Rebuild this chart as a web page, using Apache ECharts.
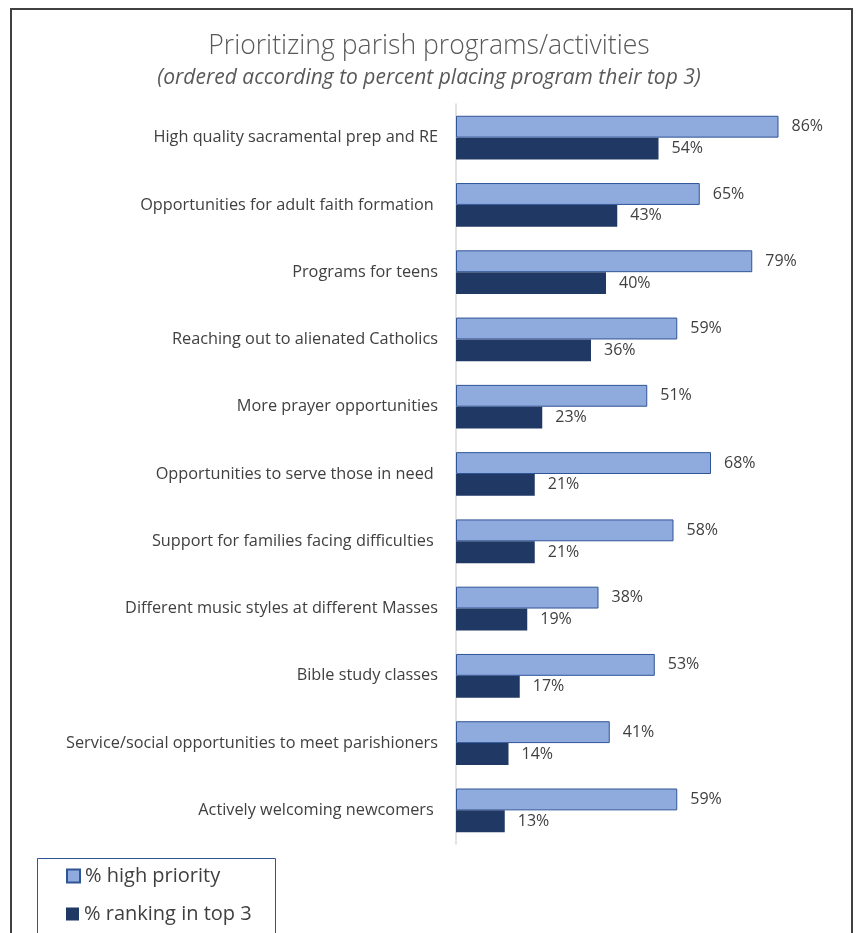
<!DOCTYPE html>
<html><head><meta charset="utf-8">
<script src="https://cdn.jsdelivr.net/npm/echarts@6/dist/echarts.min.js"></script>
<style>html,body{margin:0;padding:0;background:#fff}#c{width:858px;height:933px}</style>
</head><body><div id="c"></div>
<script>
const categories = [
  "High quality sacramental prep and RE",
  "Opportunities for adult faith formation ",
  "Programs for teens",
  "Reaching out to alienated Catholics",
  "More prayer opportunities",
  "Opportunities to serve those in need ",
  "Support for families facing difficulties ",
  "Different music styles at different Masses",
  "Bible study classes",
  "Service/social opportunities to meet parishioners",
  "Actively welcoming newcomers "
];
const highPriority = [86, 65, 79, 59, 51, 68, 58, 38, 53, 41, 59];
const top3 = [54, 43, 40, 36, 23, 21, 21, 19, 17, 14, 13];
const seriesNames = ["% high priority", "% ranking in top 3"];

const FONT = "Open Sans";
const legendBase = {
  orient: 'vertical', left: 66, padding: 0,
  itemWidth: 13, itemHeight: 13, icon: 'rect',
  textStyle: { fontFamily: FONT, fontSize: 20, color: '#404040' }
};
const chart = echarts.init(document.getElementById('c'));
chart.setOption({
  animation: false,
  backgroundColor: '#fff',
  textStyle: { fontFamily: FONT },
  title: [{
    text: 'Prioritizing parish programs/activities',
    left: 'center', top: 28,
    textStyle: { fontFamily: FONT, fontSize: 26.6, fontWeight: 300, color: '#595959' }
  }, {
    text: '(ordered according to percent placing program their top 3)',
    left: 'center', top: 63,
    textStyle: { fontFamily: FONT, fontSize: 21, fontWeight: 'normal', fontStyle: 'italic', color: '#595959' }
  }],
  graphic: [{
    type: 'rect', shape: { x: 11, y: 9, width: 841, height: 940 },
    style: { fill: 'none', stroke: '#404040', lineWidth: 2 }, silent: true, z: 100
  }, {
    type: 'rect', shape: { x: 37.5, y: 858.5, width: 238, height: 100 },
    style: { fill: 'none', stroke: '#2F5597', lineWidth: 1 }, silent: true, z: 100
  }],
  legend: [
    Object.assign({}, legendBase, { top: 866, data: [seriesNames[0]] }),
    Object.assign({}, legendBase, { top: 904, data: [seriesNames[1]] })
  ],
  grid: { left: 456, right: 27, top: 104, bottom: 89, containLabel: false },
  xAxis: { type: 'value', min: 0, max: 100, show: false },
  yAxis: {
    type: 'category', data: categories, inverse: true,
    axisLine: { show: true, lineStyle: { color: '#D9D9D9', width: 1.5 } },
    axisTick: { show: false },
    axisLabel: { fontFamily: FONT, fontSize: 16.3, color: '#404040', margin: 18 }
  },
  series: [
    {
      name: seriesNames[0], type: 'bar', data: highPriority,
      barGap: '0%', barCategoryGap: '35%',
      itemStyle: { color: '#8FAADC', borderColor: '#2F5597', borderWidth: 1 },
      label: { show: true, position: 'right', distance: 13, formatter: '{c}%', fontFamily: FONT, fontSize: 16, color: '#404040' }
    },
    {
      name: seriesNames[1], type: 'bar', data: top3,
      barGap: '0%', barCategoryGap: '35%',
      itemStyle: { color: '#203864' },
      label: { show: true, position: 'right', distance: 13, formatter: '{c}%', fontFamily: FONT, fontSize: 16, color: '#404040' }
    }
  ]
});
</script></body></html>
